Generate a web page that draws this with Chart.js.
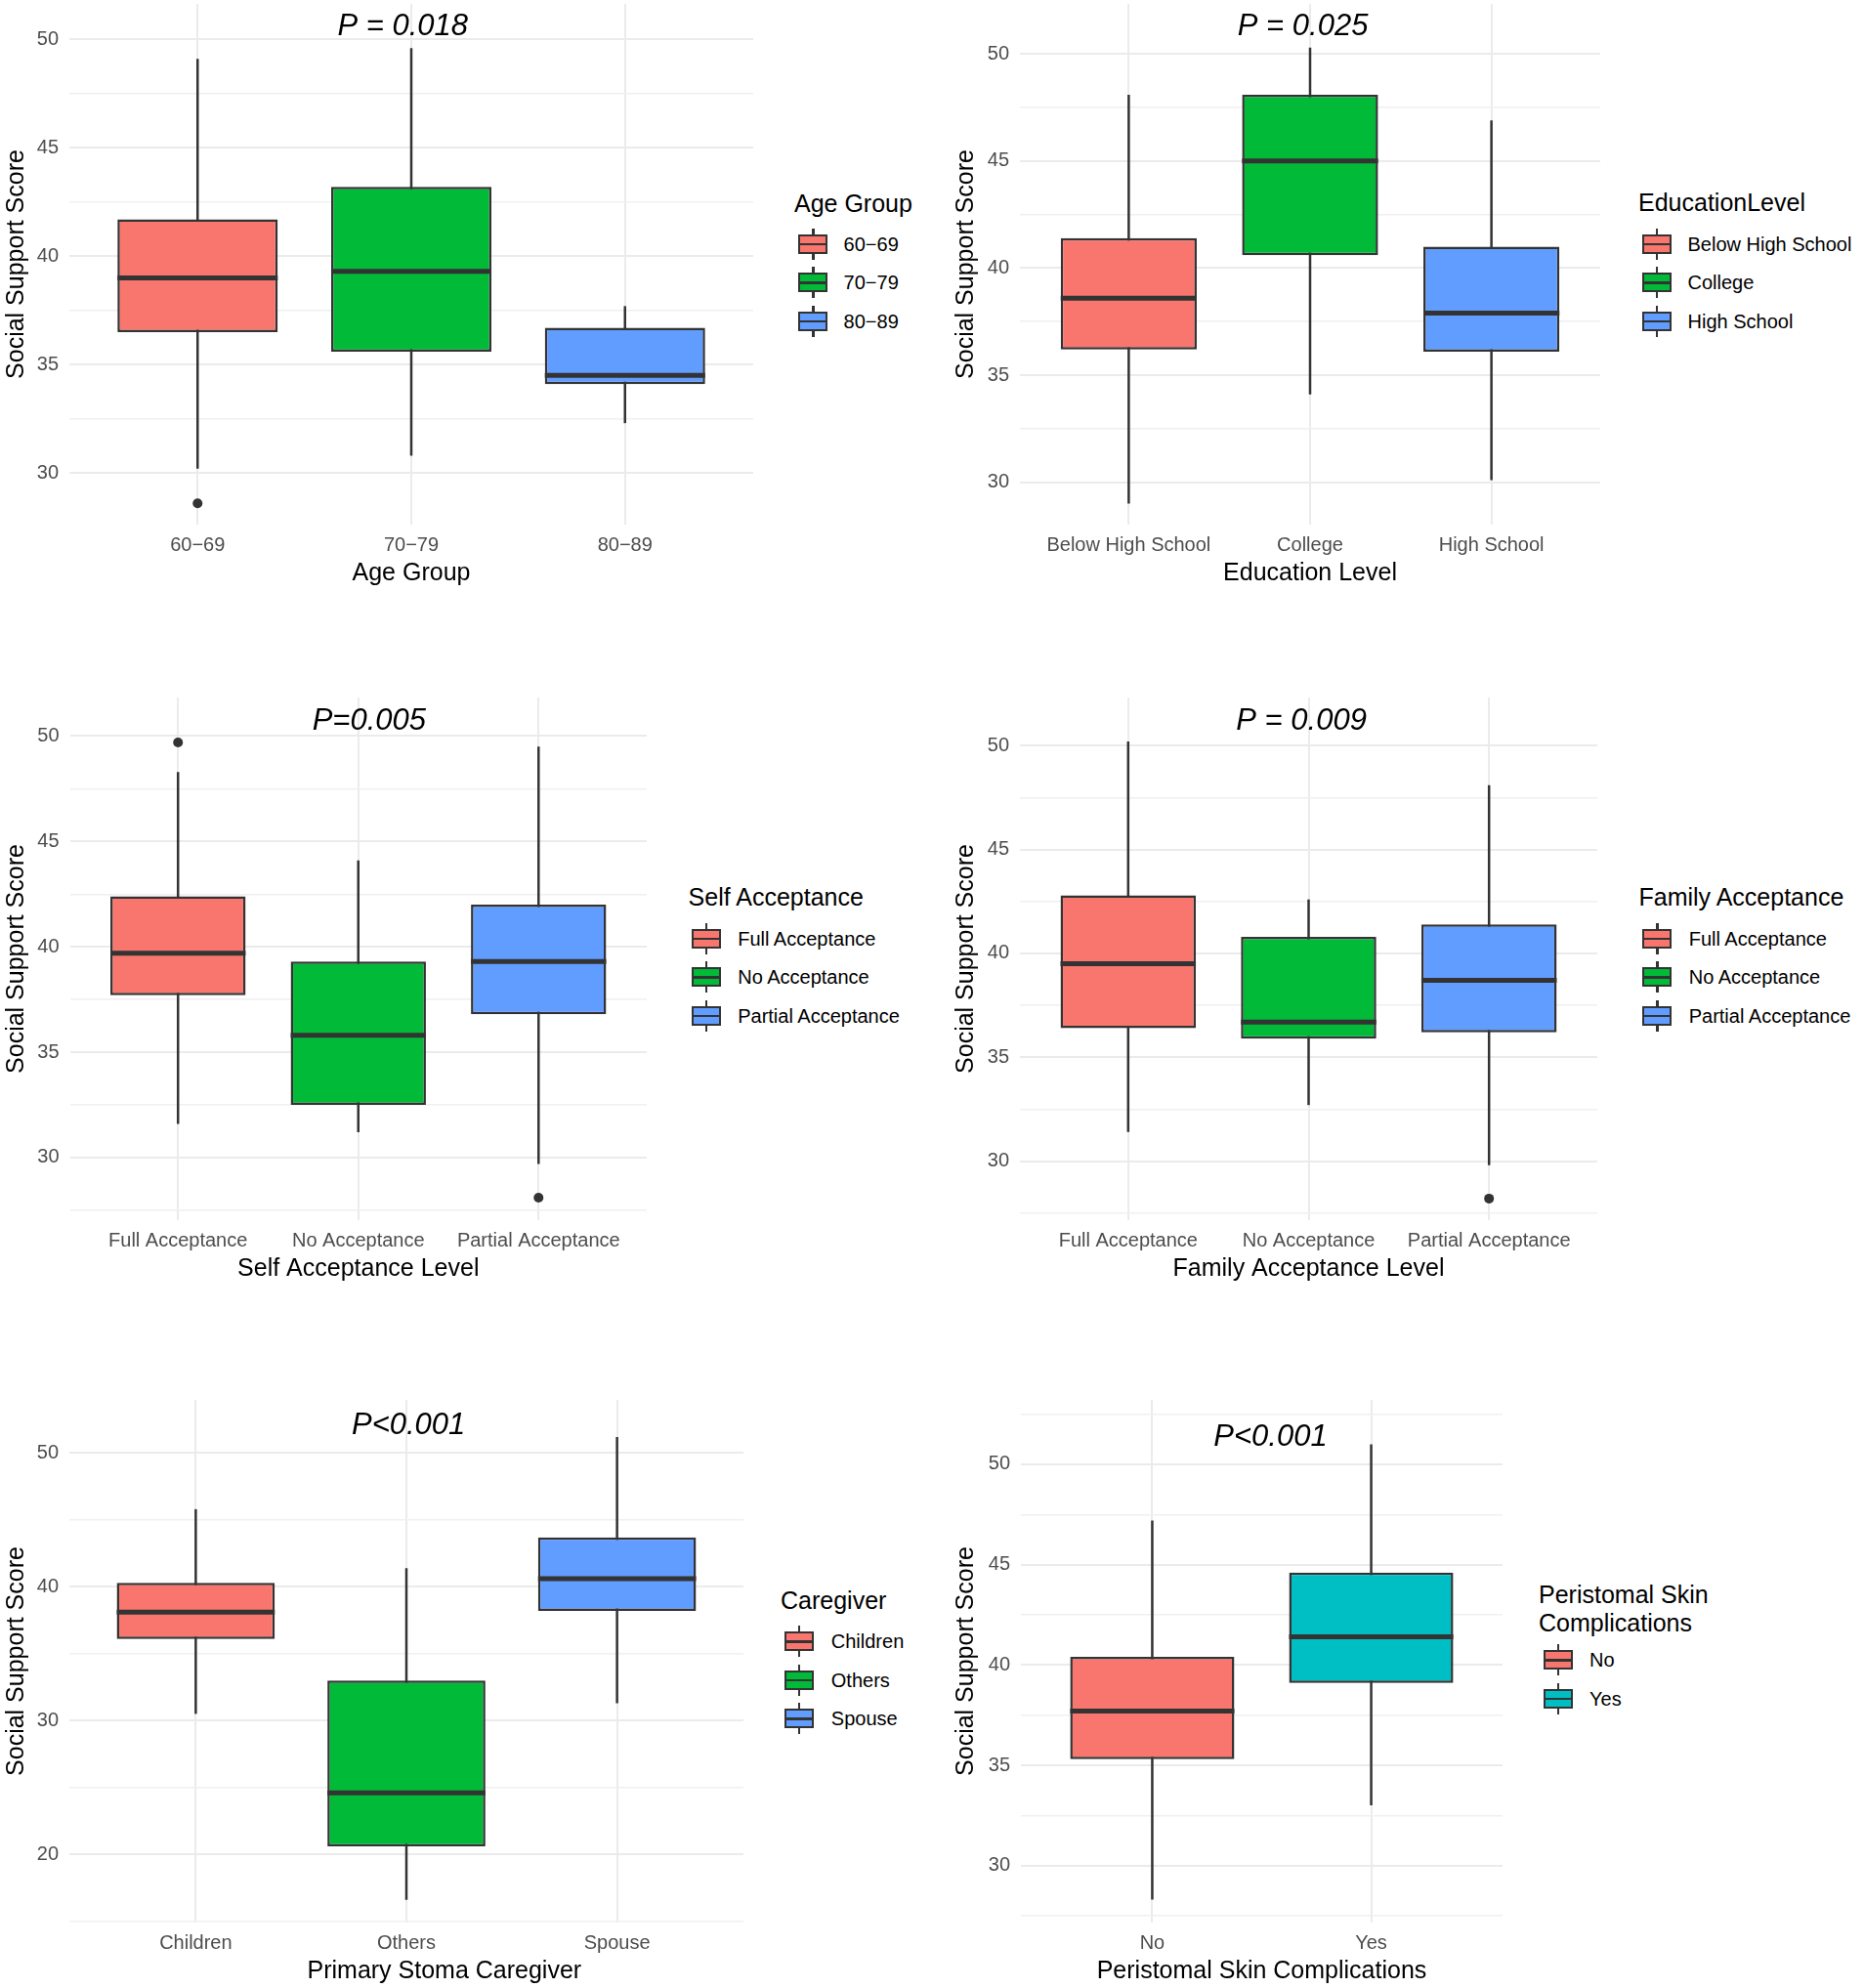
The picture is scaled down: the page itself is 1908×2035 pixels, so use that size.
<!DOCTYPE html>
<html>
<head>
<meta charset="utf-8">
<title>Social support score by patient characteristics</title>
<script src="https://cdn.jsdelivr.net/npm/chart.js@4.4.1/dist/chart.umd.min.js"></script>
<style>
  html, body { margin: 0; padding: 0; background: #fff; }
  body { position: relative; width: 1908px; height: 2035px; overflow: hidden;
         font-family: "Liberation Sans", Arial, sans-serif; }
  canvas { position: absolute; }
  .legend-title { position: absolute; font-size: 25px; line-height: 29px; color: #000;
                  transform: translateY(-50%); white-space: nowrap; }
  .legend-label { position: absolute; font-size: 20px; line-height: 24px; color: #000;
                  transform: translateY(-50%); white-space: nowrap; }
  .key { position: absolute; width: 30px; height: 32px; transform: translateY(-50%); }
  .key .whisker { position: absolute; left: 14px; top: 0; width: 2.5px; height: 32px; background: #333; }
  .key .box { position: absolute; left: 0; top: 6px; width: 30px; height: 20px;
              box-sizing: border-box; border: 2px solid #333; }
  .key .mid { position: absolute; left: 0; top: 15px; width: 30px; height: 2.5px; background: #333; }
</style>
</head>
<body>
<script>
/* =========================================================
   SOCIAL SUPPORT SCORE - six box plots (Chart.js floating bars)
   ========================================================= */

// --- Panel 1: Age group
const ageGroups   = ['60\u221269', '70\u221279', '80\u221289'];
const ageLow      = [30.2, 30.8, 32.3];
const ageQ1       = [36.5, 35.6, 34.1];
const ageMedian   = [39.0, 39.3, 34.5];
const ageQ3       = [41.7, 43.2, 36.7];
const ageHigh     = [49.1, 49.6, 37.7];
const ageOutliers = [[28.6], [], []];
const ageTicks    = [30, 35, 40, 45, 50];

// --- Panel 2: Education level
const eduLevels   = ['Below High School', 'College', 'High School'];
const eduLow      = [29.0, 34.1, 30.1];
const eduQ1       = [36.2, 40.6, 36.1];
const eduMedian   = [38.6, 45.0, 37.9];
const eduQ3       = [41.4, 48.1, 41.0];
const eduHigh     = [48.1, 50.3, 46.9];
const eduOutliers = [[], [], []];
const eduTicks    = [30, 35, 40, 45, 50];

// --- Panel 3: Self acceptance
const selfLevels   = ['Full Acceptance', 'No Acceptance', 'Partial Acceptance'];
const selfLow      = [31.6, 31.2, 29.7];
const selfQ1       = [37.7, 32.5, 36.8];
const selfMedian   = [39.7, 35.8, 39.3];
const selfQ3       = [42.4, 39.3, 42.0];
const selfHigh     = [48.3, 44.1, 49.5];
const selfOutliers = [[49.7], [], [28.1]];
const selfTicks    = [30, 35, 40, 45, 50];

// --- Panel 4: Family acceptance
const famLevels   = ['Full Acceptance', 'No Acceptance', 'Partial Acceptance'];
const famLow      = [31.4, 32.7, 29.8];
const famQ1       = [36.4, 35.9, 36.2];
const famMedian   = [39.5, 36.7, 38.7];
const famQ3       = [42.8, 40.8, 41.4];
const famHigh     = [50.2, 42.6, 48.1];
const famOutliers = [[], [], [28.2]];
const famTicks    = [30, 35, 40, 45, 50];

// --- Panel 5: Primary stoma caregiver
const careGroups   = ['Children', 'Others', 'Spouse'];
const careLow      = [30.5, 16.6, 31.3];
const careQ1       = [36.1, 20.6, 38.2];
const careMedian   = [38.1, 24.6, 40.6];
const careQ3       = [40.3, 33.0, 43.7];
const careHigh     = [45.8, 41.4, 51.2];
const careOutliers = [[], [], []];
const careTicks    = [20, 30, 40, 50];

// --- Panel 6: Peristomal skin complications
const skinGroups   = ['No', 'Yes'];
const skinLow      = [28.3, 33.0];
const skinQ1       = [35.3, 39.1];
const skinMedian   = [37.7, 41.4];
const skinQ3       = [40.4, 44.6];
const skinHigh     = [47.2, 51.0];
const skinOutliers = [[], []];
const skinTicks    = [30, 35, 40, 45, 50];

const hue3 = ['#F8766D', '#00BA38', '#619CFF'];
const hue2 = ['#F8766D', '#00BFC4'];

Chart.defaults.font.family = "'Liberation Sans', Arial, sans-serif";

const panels = [
  { labels: ageGroups, low: ageLow, q1: ageQ1, med: ageMedian, q3: ageQ3, high: ageHigh,
    outliers: ageOutliers, ticks: ageTicks, colours: hue3,
    xTitle: 'Age Group', xTitleX: 2, legendTitle: ['Age Group'], pText: 'P = 0.018', pX: 1.96, pY: 50.6,
    yMin: 27.62, yMax: 51.64,
    canvas: { x: 0, w: 776 }, plot: { x0: 71, x1: 775, y0: 4, y1: 537 },
    legend: { titleX: 813, titleY: [208], keyX: 817, keyY: 249.6, labelX: 863.6 } },
  { labels: eduLevels, low: eduLow, q1: eduQ1, med: eduMedian, q3: eduQ3, high: eduHigh,
    outliers: eduOutliers, ticks: eduTicks, colours: hue3,
    xTitle: 'Education Level', xTitleX: 2, legendTitle: ['EducationLevel'], pText: 'P = 0.025', pX: 1.96, pY: 51.29,
    yMin: 28.02, yMax: 52.34,
    canvas: { x: 972, w: 668 }, plot: { x0: 1044, x1: 1638, y0: 4, y1: 537 },
    legend: { titleX: 1677, titleY: [207], keyX: 1680.5, keyY: 249.6, labelX: 1727.5 } },
  { labels: selfLevels, low: selfLow, q1: selfQ1, med: selfMedian, q3: selfQ3, high: selfHigh,
    outliers: selfOutliers, ticks: selfTicks, colours: hue3,
    xTitle: 'Self Acceptance Level', xTitleX: 2, legendTitle: ['Self Acceptance'], pText: 'P=0.005', pX: 2.06, pY: 50.71,
    yMin: 27.03, yMax: 51.83,
    canvas: { x: 0, w: 667 }, plot: { x0: 71.5, x1: 665, y0: 714, y1: 1249 },
    legend: { titleX: 704.6, titleY: [918.4], keyX: 707.7, keyY: 960.7, labelX: 755.2 } },
  { labels: famLevels, low: famLow, q1: famQ1, med: famMedian, q3: famQ3, high: famHigh,
    outliers: famOutliers, ticks: famTicks, colours: hue3,
    xTitle: 'Family Acceptance Level', xTitleX: 2, legendTitle: ['Family Acceptance'], pText: 'P = 0.009', pX: 1.96, pY: 51.18,
    yMin: 27.16, yMax: 52.32,
    canvas: { x: 972, w: 668 }, plot: { x0: 1044, x1: 1638, y0: 714, y1: 1249 },
    legend: { titleX: 1677.5, titleY: [918.4], keyX: 1681, keyY: 960.7, labelX: 1728.7 } },
  { labels: careGroups, low: careLow, q1: careQ1, med: careMedian, q3: careQ3, high: careHigh,
    outliers: careOutliers, ticks: careTicks, colours: hue3,
    xTitle: 'Primary Stoma Caregiver', xTitleX: 2.18, legendTitle: ['Caregiver'], pText: 'P<0.001', pX: 2.01, pY: 52.08,
    yMin: 14.9, yMax: 53.97,
    canvas: { x: 0, w: 763 }, plot: { x0: 71, x1: 761, y0: 1433, y1: 1968 },
    legend: { titleX: 799, titleY: [1638], keyX: 802.7, keyY: 1680.4, labelX: 850.8 } },
  { labels: skinGroups, low: skinLow, q1: skinQ1, med: skinMedian, q3: skinQ3, high: skinHigh,
    outliers: skinOutliers, ticks: skinTicks, colours: hue2,
    xTitle: 'Peristomal Skin Complications', xTitleX: 1.5, legendTitle: ['Peristomal Skin', 'Complications'],
    pText: 'P<0.001', pX: 1.54, pY: 51.35,
    yMin: 27.16, yMax: 53.21,
    canvas: { x: 972, w: 568 }, plot: { x0: 1045, x1: 1538, y0: 1433, y1: 1968 },
    legend: { titleX: 1575, titleY: [1632.2, 1661], keyX: 1579.5, keyY: 1699.4, labelX: 1627 } }
];

const X_AXIS_HEIGHT = 70;
const TOP_ROOM = 26;      // room above the panel for the y tick label overhang
const KEY_STEP = 39.5;

// major ticks carry labels, minor ones sit half way between
function gridValues(labels, min, max) {
  const half = (labels[1] - labels[0]) / 2;
  const out = [];
  let v = labels[0];
  while (v - half >= min) v -= half;
  for (; v <= max + 1e-9; v += half) out.push(v);
  return out;
}

// whiskers, medians, P annotation and x title, drawn through the chart's scales
function boxExtras(p) {
  return {
    id: 'boxExtras',
    beforeDatasetsDraw(chart) {
      const { ctx, scales: { x, y } } = chart;
      ctx.save();
      ctx.strokeStyle = '#333333';
      ctx.lineWidth = 2.5;
      p.low.forEach((lo, i) => {
        const px = x.getPixelForValue(i + 1);
        ctx.beginPath();
        ctx.moveTo(px, y.getPixelForValue(lo));
        ctx.lineTo(px, y.getPixelForValue(p.high[i]));
        ctx.stroke();
      });
      ctx.restore();
    },
    afterDatasetsDraw(chart) {
      const { ctx, chartArea, scales: { x, y } } = chart;
      const meta = chart.getDatasetMeta(0);
      ctx.save();
      ctx.strokeStyle = '#333333';
      ctx.lineWidth = 5;
      meta.data.forEach((bar, i) => {
        const { x: bx, width } = bar.getProps(['x', 'width'], true);
        const py = y.getPixelForValue(p.med[i]);
        ctx.beginPath();
        ctx.moveTo(bx - width / 2, py);
        ctx.lineTo(bx + width / 2, py);
        ctx.stroke();
      });
      ctx.fillStyle = '#000';
      ctx.textAlign = 'center';
      ctx.textBaseline = 'middle';
      ctx.font = "italic 31px 'Liberation Sans', Arial, sans-serif";
      ctx.fillText(p.pText, x.getPixelForValue(p.pX), y.getPixelForValue(p.pY));
      ctx.font = "25px 'Liberation Sans', Arial, sans-serif";
      ctx.fillText(p.xTitle, x.getPixelForValue(p.xTitleX), chartArea.bottom + 50);
      ctx.restore();
    }
  };
}

function renderPanel(p) {
  const c = p.canvas, pl = p.plot;
  const top = pl.y0 - TOP_ROOM;
  const canvas = document.createElement('canvas');
  canvas.width = c.w;
  canvas.height = pl.y1 + X_AXIS_HEIGHT - top;
  canvas.style.left = c.x + 'px';
  canvas.style.top = top + 'px';
  canvas.style.width = canvas.width + 'px';
  canvas.style.height = canvas.height + 'px';
  document.body.appendChild(canvas);

  const n = p.labels.length;
  const yValues = gridValues(p.ticks, p.yMin, p.yMax);
  const isMajor = v => p.ticks.includes(v);

  new Chart(canvas.getContext('2d'), {
    type: 'bar',
    data: {
      datasets: [{
        type: 'bar',
        data: p.labels.map((_, i) => ({ x: i + 1, y: [p.q1[i], p.q3[i]] })),
        backgroundColor: p.colours,
        borderColor: '#333333',
        borderWidth: 2.5,
        borderSkipped: false,
        barPercentage: 0.75,
        categoryPercentage: 1.0
      }, {
        type: 'scatter',
        data: p.outliers.flatMap((vals, i) => vals.map(v => ({ x: i + 1, y: v }))),
        pointRadius: 5,
        pointBackgroundColor: '#333333',
        pointBorderWidth: 0
      }]
    },
    options: {
      responsive: false,
      animation: false,
      devicePixelRatio: 1,
      events: [],
      layout: { padding: { top: TOP_ROOM, right: c.x + c.w - pl.x1, bottom: 0, left: 0 } },
      scales: {
        x: {
          type: 'linear',
          min: 0.4,
          max: n + 0.6,
          offset: false,
          afterBuildTicks: s => { s.ticks = p.labels.map((_, i) => ({ value: i + 1 })); },
          afterFit: s => { s.height = X_AXIS_HEIGHT; },
          grid: { offset: false, color: '#EBEBEB', lineWidth: 2, drawTicks: false },
          border: { display: false },
          ticks: {
            autoSkip: false, maxRotation: 0, padding: 9,
            color: '#4D4D4D', font: { size: 20 },
            callback: v => p.labels[Math.round(v) - 1]
          }
        },
        y: {
          min: p.yMin,
          max: p.yMax,
          afterBuildTicks: s => { s.ticks = yValues.map(v => ({ value: v })); },
          afterFit: s => { s.width = pl.x0 - c.x; },
          grid: {
            drawTicks: false,
            color: ctx => isMajor(ctx.tick.value) ? '#EBEBEB' : '#F0F0F0',
            lineWidth: ctx => isMajor(ctx.tick.value) ? 2 : 1.5
          },
          border: { display: false },
          ticks: {
            autoSkip: false, padding: 11,
            color: '#4D4D4D', font: { size: 20 },
            callback: v => isMajor(v) ? String(v) : ''
          },
          title: { display: true, text: 'Social Support Score', color: '#000', font: { size: 25 },
                   padding: { top: 2.5, bottom: 0 } }
        }
      },
      plugins: { legend: { display: false }, tooltip: { enabled: false } }
    },
    plugins: [boxExtras(p)]
  });
}

function addDiv(cls, left, top, text) {
  const d = document.createElement('div');
  d.className = cls;
  d.style.left = left + 'px';
  d.style.top = top + 'px';
  if (text !== undefined) d.textContent = text;
  document.body.appendChild(d);
  return d;
}

function renderLegend(p) {
  const lg = p.legend;
  p.legendTitle.forEach((t, i) => addDiv('legend-title', lg.titleX, lg.titleY[i], t));
  p.labels.forEach((lab, i) => {
    const cy = lg.keyY + i * KEY_STEP;
    const key = addDiv('key', lg.keyX, cy);
    key.innerHTML = '<div class="whisker"></div><div class="box"></div><div class="mid"></div>';
    key.querySelector('.box').style.background = p.colours[i];
    addDiv('legend-label', lg.labelX, cy, lab);
  });
}

document.addEventListener('DOMContentLoaded', function() {
  panels.forEach(p => { renderPanel(p); renderLegend(p); });
});
</script>
</body>
</html>
